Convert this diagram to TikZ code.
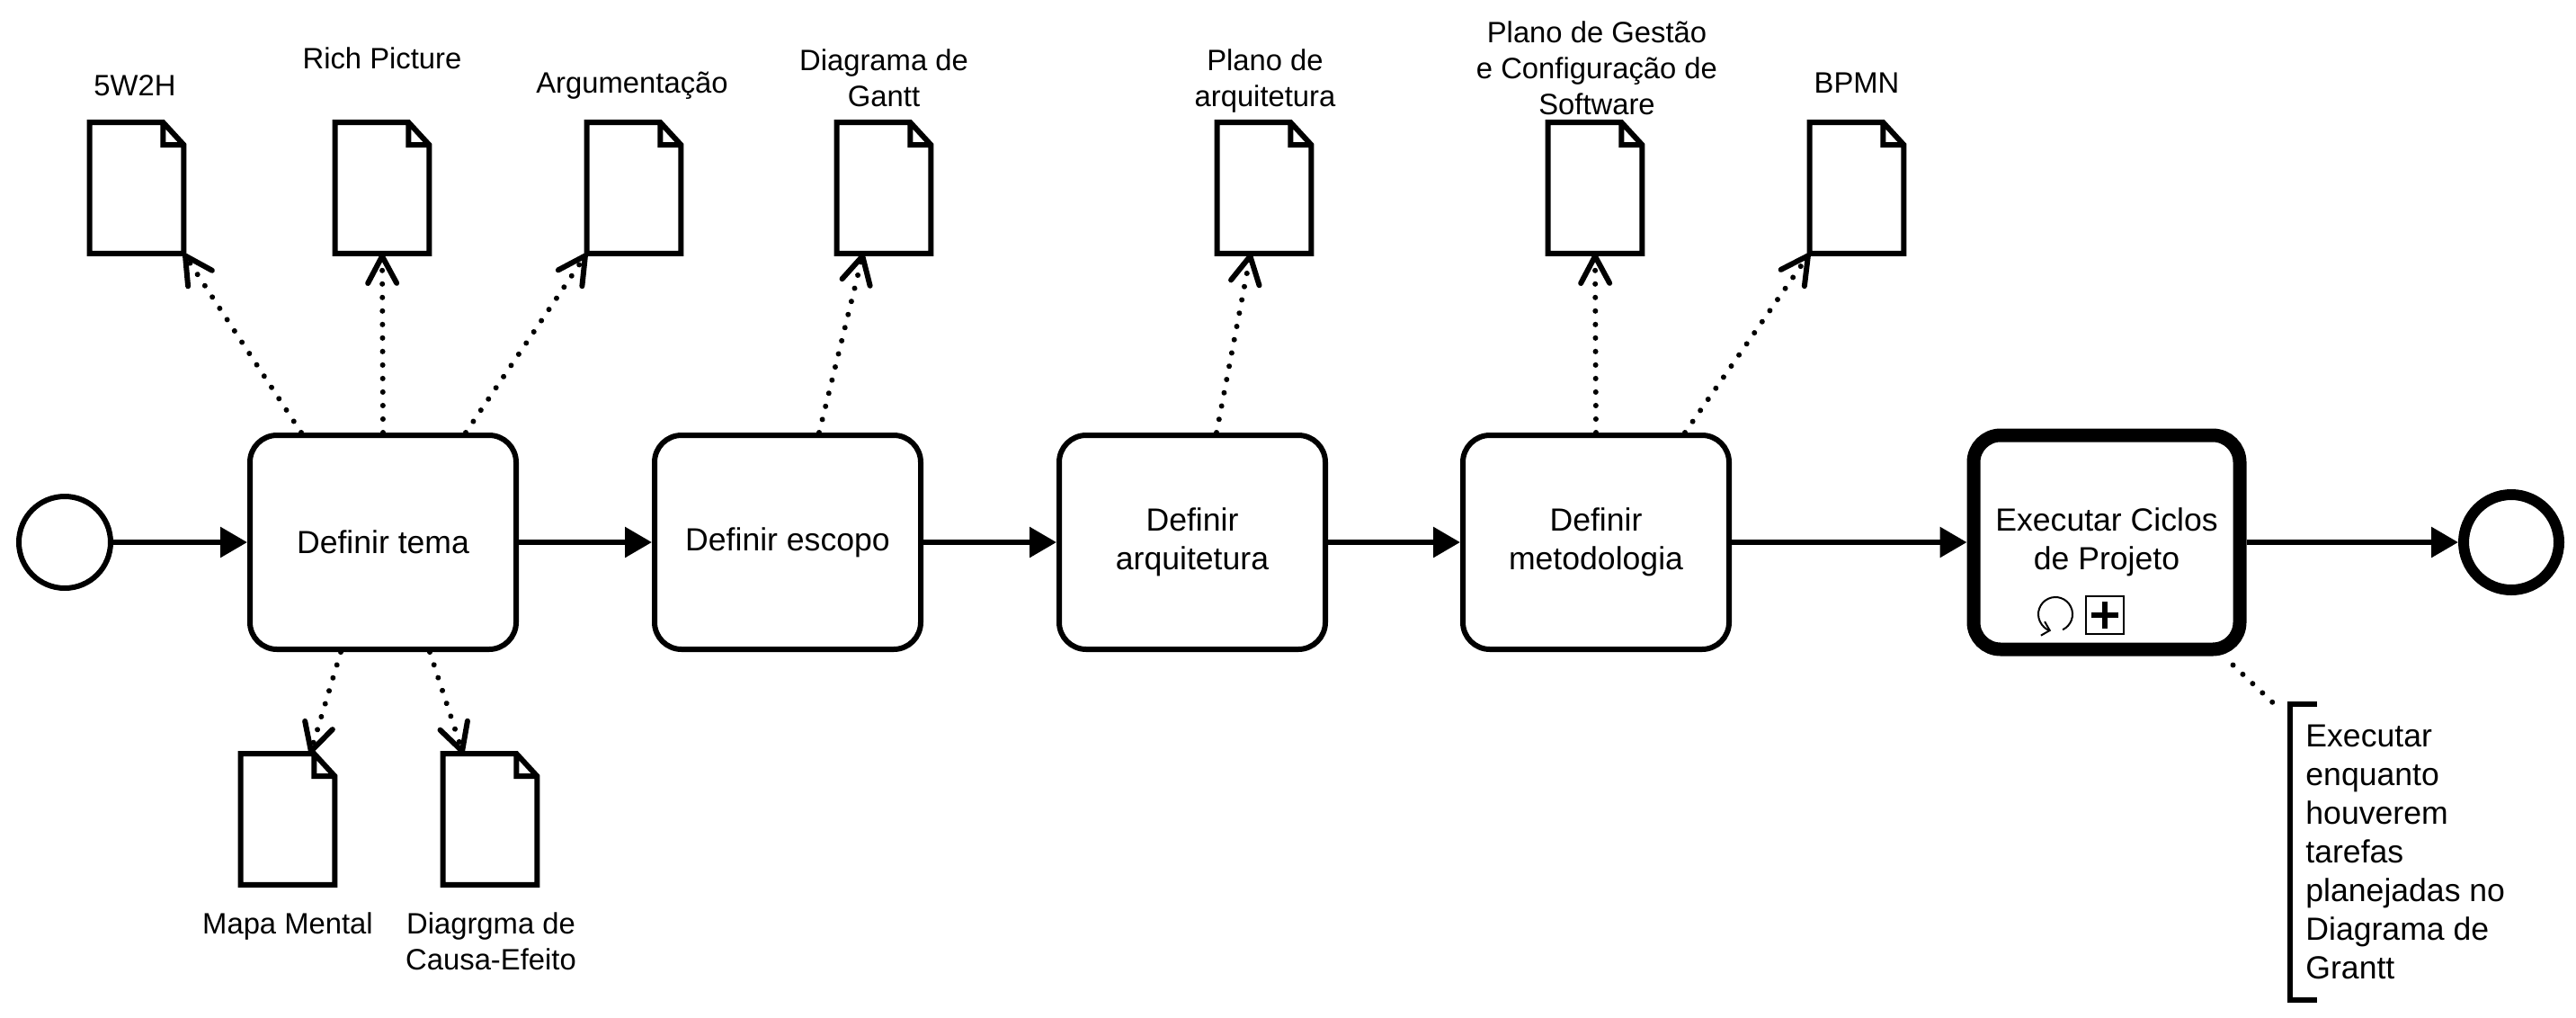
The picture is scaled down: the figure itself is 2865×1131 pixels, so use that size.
\documentclass[tikz,border=0pt]{standalone}
\usepackage{fontspec}
\setmainfont{Liberation Sans}
\usetikzlibrary{arrows.meta,calc}
\begin{document}
\begin{tikzpicture}[x=0.5pt,y=-0.5pt,
    font=\fontsize{16.4pt}{20pt}\selectfont,
    tarefa/.style={draw,fill=white,line width=3pt,rounded corners=15pt,minimum width=148pt,minimum height=119pt,align=center,font=\fontsize{17.8pt}{21.5pt}\selectfont},
    evento/.style={draw,circle,line width=3pt,minimum size=51pt,inner sep=0pt},
    doc/.style={minimum width=52pt,minimum height=72.5pt,inner sep=0pt},
    docline/.style={draw,fill=white,line width=3pt,line join=miter},
    rotulo/.style={anchor=base,align=center,inner sep=0pt},
    fluxo/.style={line width=3pt,-{Triangle[length=15pt,width=16.5pt]}},
    pontilhado/.style={line width=3pt,line cap=round,dash pattern=on 0.01pt off 7.5pt},
    assoc/.style={pontilhado,-{Straight Barb[length=15pt,width=16pt,round]}}]
    \path[fill=white] (0,0) rectangle (2865,1131);

    \node[evento] (inicio) at (72,603) {};
    \node[tarefa] (tema) at (426,603) {Definir tema};
    \node[tarefa] (escopo) at (876,603) {Definir escopo};
    \node[tarefa] (arq) at (1326,603) {Definir\\arquitetura};
    \node[tarefa] (metodo) at (1775,603) {Definir\\metodologia};
    \node[tarefa,line width=7.5pt] (ciclos) at (2343,603) {Executar Ciclos\\de Projeto};
    \node[evento,line width=6pt,minimum size=53pt] (fim) at (2793,603) {};

    \node[draw,line width=1pt,minimum size=21pt,inner sep=0pt] (mais) at (2341,684) {};
    \draw[line width=3pt] (mais.center) ++(-15,0) -- ++(30,0) (mais.center) ++(0,-15) -- ++(0,30);
    \coordinate (laco) at (2286,683);
    \draw[line width=1pt,-{Straight Barb[length=4pt,width=8pt]}] (laco) ++(65:19) arc[start angle=65,end angle=-255,radius=19];

    \foreach \nome/\cx/\cy in {d5w2h/152/209,drich/425/209,darg/705/209,dgantt/983/209,dplano/1406/209,dgestao/1774/209,dbpmn/2065/209,dmapa/320/911,dcausa/545/911}{
        \node[doc] (\nome) at (\cx,\cy) {};
        \draw[docline] (\nome.south west) -- (\nome.north west) -- ([xshift=-11.5pt]\nome.north east) -- ([yshift=-12.5pt]\nome.north east) -- (\nome.south east) -- cycle
            ([xshift=-11.5pt]\nome.north east) |- ([yshift=-12.5pt]\nome.north east);
    }

    % base = ultima linha nos rotulos de varias linhas
    \node[rotulo] (l5w2h) at (150,106) {5W2H};
    \node[rotulo] (lrich) at (425,76) {Rich Picture};
    \node[rotulo] (larg) at (703,103) {Argumentação};
    \node[rotulo] (lgantt) at (983,118) {Diagrama de\\Gantt};
    \node[rotulo] (lplano) at (1407,118) {Plano de\\arquitetura};
    \node[rotulo] (lgestao) at (1776,127) {Plano de Gestão\\e Configuração de\\Software};
    \node[rotulo] (lbpmn) at (2065,103) {BPMN};
    \node[rotulo] (lmapa) at (320,1038) {Mapa Mental};
    \node[rotulo] (lcausa) at (546,1078) {Diagrgma de\\Causa-Efeito};

    \draw[fluxo] (inicio) -- (tema);
    \draw[fluxo] (tema) -- (escopo);
    \draw[fluxo] (escopo) -- (arq);
    \draw[fluxo] (arq) -- (metodo);
    \draw[fluxo] (metodo) -- (ciclos);
    \draw[fluxo] (ciclos) -- (fim);

    \draw[assoc] ($(tema.north)+(-91,0)$) -- (d5w2h.south east);
    \draw[assoc] (tema.north) -- (drich.south);
    \draw[assoc] ($(tema.north)+(92,0)$) -- (darg.south west);
    \draw[assoc] ($(escopo.north)+(35,0)$) -- ($(dgantt.south)+(-23,0)$);
    \draw[assoc] ($(arq.north)+(27,0)$) -- ($(dplano.south)+(-15,0)$);
    \draw[assoc] (metodo.north) -- (dgestao.south);
    \draw[assoc] ($(metodo.north)+(99,0)$) -- (dbpmn.south west);
    \draw[assoc] ($(tema.south)+(-47,0)$) -- ($(dmapa.north)+(25,0)$);
    \draw[assoc] ($(tema.south)+(52,0)$) -- ($(dcausa.north)+(-30,0)$);

    \node[anchor=north west,align=left,inner sep=0pt,font=\fontsize{17.8pt}{21.5pt}\selectfont] (nota) at (2564,806) {Executar\\enquanto\\houverem\\tarefas\\planejadas no\\Diagrama de\\Grantt};
    \coordinate (notaponta) at (2537,790);
    \draw[line width=3pt] (2577,783) -| (2547,1112) -- (2577,1112);
    \draw[pontilhado] ($(ciclos.south east)+(-15,10)$) -- (notaponta);
\end{tikzpicture}
\end{document}
